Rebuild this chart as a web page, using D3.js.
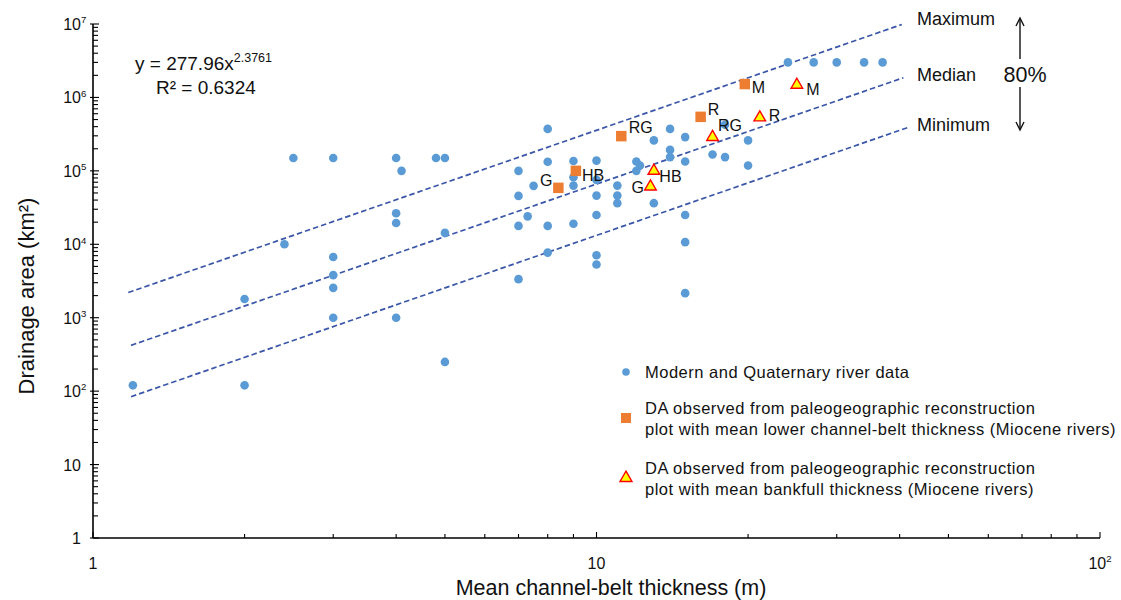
<!DOCTYPE html>
<html>
<head>
<meta charset="utf-8">
<script src="https://cdn.jsdelivr.net/npm/d3@7"></script>
<style>
  html, body { margin: 0; padding: 0; background: #fff; }
  svg { display: block; font-family: "Liberation Sans", Arial, sans-serif; }
</style>
</head>
<body>
<svg id="chart" width="1121" height="600"></svg>
<script>
// Modern and Quaternary rivers: mean channel-belt thickness (m) vs drainage area (km²)
const modernThickness = [1.2, 2, 2, 2.4, 2.5, 3, 3, 3, 3, 3, 4, 4.1, 4, 4, 4, 4.8, 5, 5, 5,
  7, 7, 7, 7, 7.3, 7.5, 8, 8, 8, 8, 9, 9, 9, 9, 10, 10, 10, 10, 10, 10,
  11, 11, 11, 12, 12.2, 12, 13, 13, 14, 14, 14, 15, 15, 15, 15, 15,
  17, 18, 18, 20, 20, 24, 27, 30, 34, 37];
const modernArea = [120, 120, 1800, 10000, 150000, 150000, 6700, 3800, 2550, 1000, 150000, 100000, 26500, 19500, 1000, 150000, 150000, 14300, 250,
  100000, 45600, 17800, 3350, 24000, 62500, 373000, 133000, 17800, 7700, 136000, 82000, 63000, 19000, 138000, 75400, 46000, 25000, 7100, 5300,
  63000, 46000, 36300, 134000, 118000, 100000, 260000, 36300, 373000, 193000, 154000, 288000, 134000, 25000, 10700, 2160,
  167000, 154000, 424000, 260000, 118000, 3000000, 3000000, 3000000, 3000000, 3000000];

// Miocene rivers (paleogeographic reconstruction)
const mioceneRivers = ["G", "HB", "RG", "R", "M"];
const lowerBeltThickness = [8.4, 9.1, 11.2, 16.1, 19.7];
const lowerBeltArea = [58700, 100000, 297000, 544000, 1520000];
const bankfullThickness = [12.8, 13.0, 17.0, 21.1, 25.0];
const bankfullArea = [61000, 100000, 288000, 533000, 1480000];

// Power-law fit y = a·x^b and the envelope lines
const fitCoef = 277.96;
const fitExp = 2.3761;
const fitR2 = 0.6324;
const envelopeNames = ["Maximum", "Median", "Minimum"];
const envelopeFactor = [5.4, 1, 0.2];
const envelopeXStart = [1.175, 1.19, 1.19];
const envelopeXEnd = [40.4, 40.7, 41.9];
const bandLabel = "80%";

// Axis ticks
const xMajorTicks = [1, 10, 100];
const xTickExponents = [0, 1, 2];
const yMajorTicks = [1, 10, 100, 1e3, 1e4, 1e5, 1e6, 1e7];
const yTickExponents = [0, 1, 2, 3, 4, 5, 6, 7];
const xTitle = "Mean channel-belt thickness (m)";
const yTitle = "Drainage area (km²)";

const legendLabels = [
  ["Modern and Quaternary river data"],
  ["DA observed from paleogeographic reconstruction", "plot with mean lower channel-belt thickness (Miocene rivers)"],
  ["DA observed from paleogeographic reconstruction", "plot with mean bankfull thickness (Miocene rivers)"]
];

// ---- layout and style ----
const colDot = "#5B9BD5", colSquare = "#ED7D31", colTriFill = "#FFFF00", colTriStroke = "#FF0000";
const colDash = "#3A56A8";
const svg = d3.select("#chart");
const x = d3.scaleLog().domain([1, 100]).range([93, 1100]);
const y = d3.scaleLog().domain([1, 1e7]).range([538, 24]);

// label offsets for the Miocene markers: [dx, dy, anchor]
const squareLabelPos = [[-6, -2, "end"], [6, 10, "start"], [7.5, -3, "start"], [7, -2, "start"], [7, 9, "start"]];
const triLabelPos = [[-6.5, 6, "end"], [5.5, 11.5, "start"], [5.5, -6, "start"], [9, 4, "start"], [9.5, 10, "start"]];
// vertical offsets of the envelope names from each line's end
const envelopeLabelDy = [1, 3, 4];

// ---- axes ----
const axisG = svg.append("g").attr("stroke", "#000");
axisG.append("line").attr("x1", x(1)).attr("x2", x(100)).attr("y1", y(1)).attr("y2", y(1)).attr("stroke-width", 1.6);
axisG.append("line").attr("x1", x(1)).attr("x2", x(1)).attr("y1", y(1)).attr("y2", y(1e7)).attr("stroke-width", 1.6);

// minor + major ticks drawn inward
function logTicks(lo, hi) {
  const t = [];
  for (let e = lo; e < hi; e++) for (let m = 1; m < 10; m++) t.push(m * Math.pow(10, e));
  t.push(Math.pow(10, hi));
  return t;
}
logTicks(0, 2).forEach(v => {
  const major = xMajorTicks.includes(v);
  axisG.append("line").attr("x1", x(v)).attr("x2", x(v))
    .attr("y1", y(1)).attr("y2", y(1) - (major ? 6 : 4)).attr("stroke-width", 1.1);
});
logTicks(0, 7).forEach(v => {
  const major = yMajorTicks.includes(v);
  axisG.append("line").attr("y1", y(v)).attr("y2", y(v))
    .attr("x1", x(1) - (major ? 3 : 0)).attr("x2", x(1) + (major ? 6 : 5)).attr("stroke-width", 1.1);
});

function powerLabel(sel, exp, fs) {
  if (exp === 0) sel.append("tspan").text("1");
  else if (exp === 1) sel.append("tspan").text("10");
  else {
    sel.append("tspan").text("10");
    sel.append("tspan").attr("font-size", fs * 0.6).attr("dy", -fs * 0.42).text(exp);
  }
}
const tickFs = 16;
yMajorTicks.forEach((v, i) => {
  const t = svg.append("text").attr("x", 80).attr("y", y(v) + 6)
    .attr("font-size", tickFs).attr("fill", "#111");
  powerLabel(t, yTickExponents[i], tickFs);
  // right-align the base digits; the superscript hangs to the right
  const base = t.select("tspan").node().getComputedTextLength();
  t.attr("x", 81 - base);
});
xMajorTicks.forEach((v, i) => {
  const t = svg.append("text").attr("y", 569).attr("font-size", tickFs).attr("fill", "#111");
  powerLabel(t, xTickExponents[i], tickFs);
  const w = t.node().getComputedTextLength();
  t.attr("x", x(v) - w / 2);
});

svg.append("text").attr("x", 611).attr("y", 595).attr("text-anchor", "middle")
  .attr("font-size", 21.5).attr("fill", "#111").text(xTitle);
svg.append("text").attr("transform", "translate(34,296) rotate(-90)").attr("text-anchor", "middle")
  .attr("font-size", 22).attr("fill", "#111").text(yTitle);

// ---- envelope lines ----
const lineG = svg.append("g");
envelopeNames.forEach((name, i) => {
  const f = xv => envelopeFactor[i] * fitCoef * Math.pow(xv, fitExp);
  const pts = [envelopeXStart[i], envelopeXEnd[i]].map(xv => [x(xv), y(f(xv))]);
  lineG.append("path").attr("d", d3.line()(pts)).attr("fill", "none")
    .attr("stroke", colDash).attr("stroke-width", 1.7).attr("stroke-dasharray", "5.5,3");
  svg.append("text").attr("x", 917).attr("y", pts[1][1] + envelopeLabelDy[i])
    .attr("font-size", 18).attr("fill", "#111").text(name);
});

// 80% band arrows
const arrowG = svg.append("g").attr("stroke", "#111").attr("stroke-width", 1.4).attr("fill", "none");
arrowG.append("line").attr("x1", 1020).attr("x2", 1020).attr("y1", 19).attr("y2", 59);
arrowG.append("path").attr("d", "M1016,26 L1020,18 L1024,26");
arrowG.append("line").attr("x1", 1020).attr("x2", 1020).attr("y1", 87).attr("y2", 129);
arrowG.append("path").attr("d", "M1016,122 L1020,130 L1024,122");
svg.append("text").attr("x", 1025).attr("y", 82).attr("text-anchor", "middle")
  .attr("font-size", 21.5).attr("fill", "#111").text(bandLabel);

// ---- regression equation ----
const eq = svg.append("text").attr("x", 135).attr("y", 70).attr("font-size", 19).attr("fill", "#111");
eq.append("tspan").text("y = " + fitCoef + "x");
eq.append("tspan").attr("font-size", 12.5).attr("dy", -8).text(fitExp);
svg.append("text").attr("x", 156).attr("y", 94).attr("font-size", 19).attr("fill", "#111")
  .text("R² = " + fitR2);

// ---- data marks ----
svg.append("g").selectAll("circle").data(modernThickness).join("circle")
  .attr("cx", d => x(d)).attr("cy", (d, i) => y(modernArea[i])).attr("r", 4.3)
  .attr("fill", colDot);

const sq = d3.symbol(d3.symbolSquare, 110);
const tri = d3.symbol(d3.symbolTriangle, 58);
svg.append("g").selectAll("path").data(lowerBeltThickness).join("path")
  .attr("d", sq).attr("transform", (d, i) => `translate(${x(d)},${y(lowerBeltArea[i])})`)
  .attr("fill", colSquare);
svg.append("g").selectAll("path").data(bankfullThickness).join("path")
  .attr("d", tri).attr("transform", (d, i) => `translate(${x(d)},${y(bankfullArea[i])})`)
  .attr("fill", colTriFill).attr("stroke", colTriStroke).attr("stroke-width", 1.4);

const labFs = 16;
mioceneRivers.forEach((n, i) => {
  const p = squareLabelPos[i];
  svg.append("text").attr("x", x(lowerBeltThickness[i]) + p[0]).attr("y", y(lowerBeltArea[i]) + p[1])
    .attr("text-anchor", p[2]).attr("font-size", labFs).attr("fill", "#111").text(n);
  const q = triLabelPos[i];
  svg.append("text").attr("x", x(bankfullThickness[i]) + q[0]).attr("y", y(bankfullArea[i]) + q[1])
    .attr("text-anchor", q[2]).attr("font-size", labFs).attr("fill", "#111").text(n);
});

// ---- legend ----
const legX = 626, legTextX = 645;
const legY = [372, 418, 478];
const legG = svg.append("g");
legG.append("circle").attr("cx", legX).attr("cy", legY[0]).attr("r", 3.8).attr("fill", colDot);
legG.append("path").attr("d", d3.symbol(d3.symbolSquare, 100)())
  .attr("transform", `translate(${legX},${legY[1]})`).attr("fill", colSquare);
legG.append("path").attr("d", d3.symbol(d3.symbolTriangle, 62)())
  .attr("transform", `translate(${legX},${legY[2]})`).attr("fill", colTriFill)
  .attr("stroke", colTriStroke).attr("stroke-width", 1.4);
legendLabels.forEach((lines, i) => {
  const n = lines.length;
  lines.forEach((s, j) => {
    legG.append("text").attr("x", legTextX)
      .attr("y", legY[i] + 6 + (j - (n - 1) / 2) * 21)
      .attr("font-size", 16.5).attr("letter-spacing", 0.5).attr("fill", "#111").text(s);
  });
});
</script>
</body>
</html>
